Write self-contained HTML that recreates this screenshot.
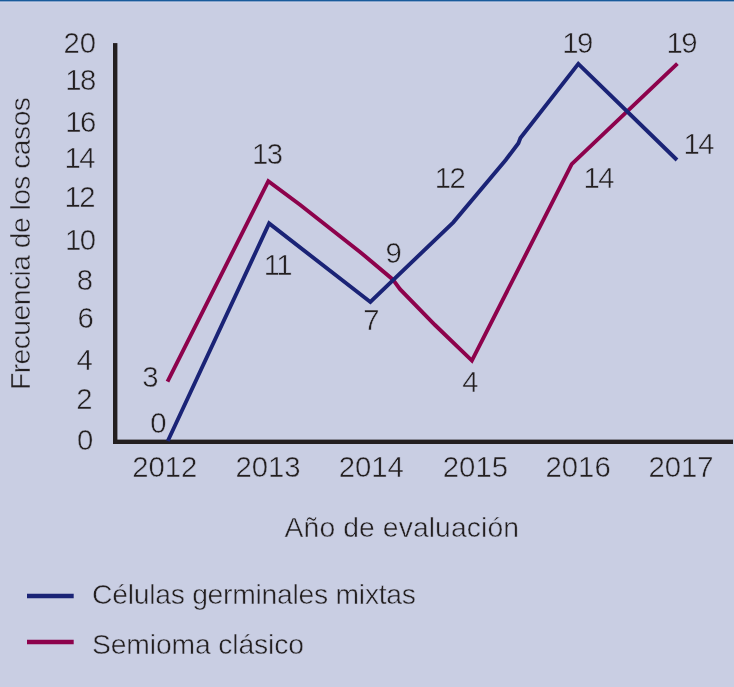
<!DOCTYPE html>
<html lang="es">
<head>
<meta charset="utf-8">
<title>Frecuencia de los casos</title>
<style>
html,body{margin:0;padding:0;background:#c9cee3;}
body{width:734px;height:687px;overflow:hidden;position:relative;}
svg{position:absolute;left:0;top:0;display:block;}
text{font-family:"Liberation Sans",sans-serif;fill:#231f20;font-size:29.3px;stroke:#c9cee3;stroke-width:0.5px;}
.t{font-size:28.3px;}
</style>
</head>
<body>
<svg width="734" height="687" viewBox="0 0 734 687">
<rect x="0" y="0" width="734" height="687" fill="#c9cee3"/>
<rect x="0" y="0" width="734" height="1" fill="#185b9b"/>
<rect x="0" y="1" width="734" height="1" fill="#8aa6cd"/>
<rect x="0" y="2" width="734" height="1" fill="#cdd3e7"/>

<!-- axes -->
<rect x="113" y="43.1" width="4.4" height="400.9" fill="#231f20"/>
<rect x="113" y="439.6" width="620" height="4.4" fill="#231f20"/>

<!-- series -->
<polyline id="mag" fill="none" stroke="#8d024c" stroke-width="3.9" stroke-linejoin="miter" stroke-miterlimit="10"
 points="167.5,381.6 268.3,181.2 300,204.7 360,251.9 392.75,279.4 400,289.2 435,325 471.9,360.6 571.7,164.2 677.4,63.7"/>
<polyline id="blu" fill="none" stroke="#1a2376" stroke-width="3.9" stroke-linejoin="miter" stroke-miterlimit="10"
 points="167.8,441 269.1,223.4 370.35,302 453.3,222.3 505.7,160 518.4,143.2 520.4,138 578.3,63.8 677,160"/>

<!-- y axis labels -->
<g text-anchor="end">
<text x="96.1" y="53.3">20</text>
<text x="96.2" y="89.6" dx="0 -1.6">18</text>
<text x="96.2" y="132" dx="0 -1.6">16</text>
<text x="95.5" y="168.1" dx="0 -1.6">14</text>
<text x="95.5" y="207.4" dx="0 -1.6">12</text>
<text x="96.1" y="249.9" dx="0 -1.6">10</text>
<text x="93.1" y="290.3">8</text>
<text x="93.8" y="328.3">6</text>
<text x="92.8" y="369.7">4</text>
<text x="92.5" y="408.9">2</text>
<text x="93.2" y="449.7">0</text>
</g>

<!-- x axis labels -->
<g text-anchor="middle">
<text x="164.75" y="477.3">2012</text>
<text x="268" y="477.3">2013</text>
<text x="371.25" y="477.3">2014</text>
<text x="475.4" y="477.3">2015</text>
<text x="578.1" y="477.3">2016</text>
<text x="681" y="477.3">2017</text>
</g>

<!-- data labels -->
<g text-anchor="middle">
<text x="158.4" y="432.7">0</text>
<text x="150.5" y="387.3">3</text>
<text x="267.5" y="163.7" dx="0 -1.6">13</text>
<text x="278.1" y="275.1" dx="0 -1.6">11</text>
<text x="393.7" y="262.9">9</text>
<text x="371.4" y="329.8">7</text>
<text x="450.2" y="187.8" dx="0 -1.6">12</text>
<text x="470.4" y="391.8">4</text>
<text x="577.8" y="53.2" dx="0 -1.6">19</text>
<text x="682.1" y="52.9" dx="0 -1.6">19</text>
<text x="699" y="154.3" dx="0 -1.6">14</text>
<text x="599" y="187.8" dx="0 -1.6">14</text>
</g>

<!-- axis titles -->
<text id="xt" class="t" x="284.6" y="536.6" textLength="234.4" lengthAdjust="spacing">Año de evaluación</text>
<text id="yt" class="t" transform="translate(30.2,390) rotate(-90)" textLength="293" lengthAdjust="spacing">Frecuencia de los casos</text>

<!-- legend -->
<line x1="27" y1="596" x2="73.7" y2="596" stroke="#1a2376" stroke-width="4.6"/>
<line x1="27" y1="642" x2="73.7" y2="642" stroke="#8d024c" stroke-width="4.6"/>
<text id="l1" class="t" x="92" y="604.4" textLength="324" lengthAdjust="spacing">Células germinales mixtas</text>
<text id="l2" class="t" x="92" y="654.4" textLength="212" lengthAdjust="spacing">Semioma clásico</text>
</svg>
</body>
</html>
